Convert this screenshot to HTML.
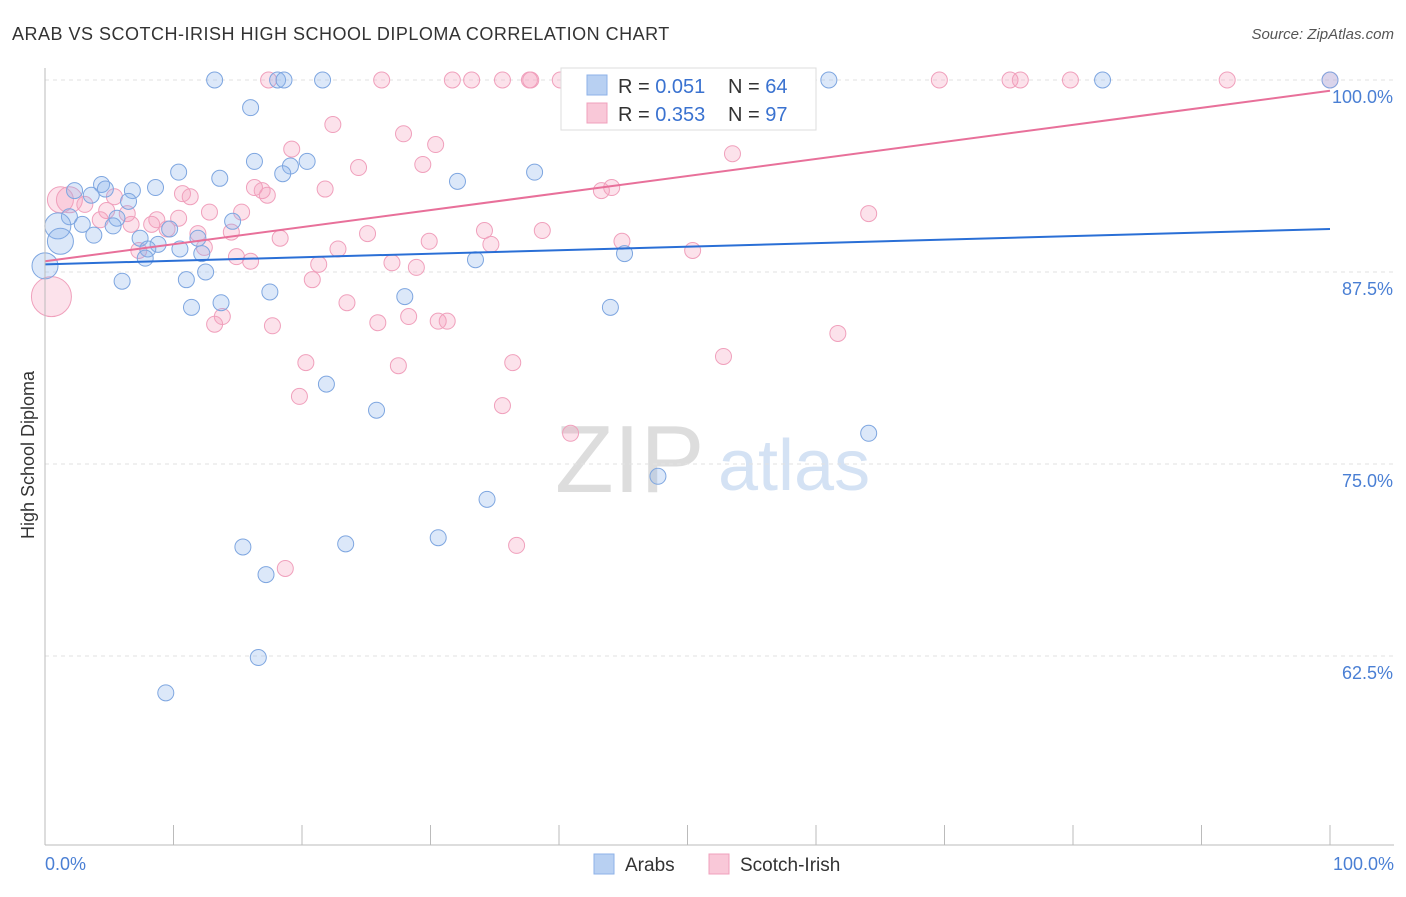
<!DOCTYPE html>
<html><head><meta charset="utf-8"><style>
body{margin:0;background:#fff;font-family:"Liberation Sans",sans-serif;}
svg text{font-family:"Liberation Sans",sans-serif;}
</style></head><body>
<svg id="c" width="1406" height="892">
<text x="12" y="40" font-size="18" letter-spacing="0.5" fill="#333">ARAB VS SCOTCH-IRISH HIGH SCHOOL DIPLOMA CORRELATION CHART</text>
<text x="1394" y="39" font-size="15" fill="#555" text-anchor="end" font-style="italic">Source: ZipAtlas.com</text>
<text x="555" y="492" font-size="96" fill="#ddd" font-family="Liberation Serif">ZIP</text>
<text x="718" y="490" font-size="72" fill="#d4e2f4">atlas</text>
<g id="grid"></g><g id="pts"></g><g id="lines"></g>
<line x1="45" y1="68" x2="45" y2="845" stroke="#bbb"/>
<line x1="45" y1="845" x2="1394" y2="845" stroke="#bbb"/>
<text x="34" y="455" font-size="18" fill="#333" text-anchor="middle" transform="rotate(-90 34 455)">High School Diploma</text>
<text x="45" y="870" font-size="18" fill="#4a7fd4">0.0%</text>
<text x="1394" y="870" font-size="18" fill="#4a7fd4" text-anchor="end">100.0%</text>
<g>
<rect x="561" y="68" width="255" height="62" fill="#fff" stroke="#ddd"/>
<rect x="587" y="75" width="20" height="20" fill="#b8d0f2" stroke="#8eb2e8"/>
<rect x="587" y="103" width="20" height="20" fill="#f9c8d8" stroke="#f0a0bc"/>
<text x="618" y="93" font-size="20" fill="#333">R = <tspan fill="#3a72d0">0.051</tspan></text>
<text x="728" y="93" font-size="20" fill="#333">N = <tspan fill="#3a72d0">64</tspan></text>
<text x="618" y="121" font-size="20" fill="#333">R = <tspan fill="#3a72d0">0.353</tspan></text>
<text x="728" y="121" font-size="20" fill="#333">N = <tspan fill="#3a72d0">97</tspan></text>
</g>
<g>
<rect x="594" y="854" width="20" height="20" fill="#b8d0f2" stroke="#8eb2e8"/>
<text x="625" y="871" font-size="19" fill="#333">Arabs</text>
<rect x="709" y="854" width="20" height="20" fill="#f9c8d8" stroke="#f0a0bc"/>
<text x="740" y="871" font-size="19" fill="#333">Scotch-Irish</text>
</g>
</svg>
<script>
const yTicks=[100,87.5,75,62.5];
const yTickLabels=["100.0%","87.5%","75.0%","62.5%"];
const xTicks=[0,10,20,30,40,50,60,70,80,90,100];
const arabX=[13.2,18.1,18.6,21.6,61.0,82.3,100,16.0,16.3,20.4,19.1,18.5,10.4,13.6,38.1,32.1,8.6,4.4,2.3,3.6,4.7,6.8,6.5,1.9,2.9,1.0,5.6,5.3,14.6,9.7,3.8,7.4,11.9,1.2,8.8,10.5,8.0,12.2,7.8,45.1,33.5,0,12.5,6.0,11.0,17.5,28.0,13.7,11.4,44.0,21.9,25.8,64.1,47.7,34.4,30.6,23.4,15.4,17.2,16.6,9.4];
const arabY=[100,100,100,100,100,100,100,98.2,94.7,94.7,94.4,93.9,94.0,93.6,94.0,93.4,93.0,93.2,92.8,92.5,92.9,92.8,92.1,91.1,90.6,90.5,91.0,90.5,90.8,90.3,89.9,89.7,89.7,89.5,89.3,89.0,89.0,88.7,88.4,88.7,88.3,87.9,87.5,86.9,87.0,86.2,85.9,85.5,85.2,85.2,80.2,78.5,77.0,74.2,72.7,70.2,69.8,69.6,67.8,62.4,60.1];
const arabBig=[25,33,41];
const scotX=[26.2,31.7,33.2,35.6,37.7,37.8,40.1,42.5,47.0,51.0,56.4,69.6,75.1,75.9,79.8,92.0,100,17.4,22.4,27.9,30.4,19.2,53.5,24.4,29.4,43.3,44.1,16.3,16.9,17.3,21.8,10.7,11.3,1.2,1.9,3.1,5.4,12.8,15.3,64.1,4.8,6.4,4.3,10.4,8.7,8.3,6.7,9.5,14.5,25.1,34.2,38.7,11.9,18.3,29.9,34.7,44.9,22.8,12.4,7.3,50.4,14.9,16.0,21.3,27.0,28.9,20.8,0.5,23.5,13.8,13.2,28.3,25.9,30.6,31.3,17.7,61.7,52.8,20.3,36.4,27.5,19.8,35.6,40.9,36.7,18.7];
const scotY=[100,100,100,100,100,100,100,100,100,100,100,100,100,100,100,100,100,100,97.1,96.5,95.8,95.5,95.2,94.3,94.5,92.8,93.0,93.0,92.8,92.5,92.9,92.6,92.4,92.2,92.2,91.9,92.4,91.4,91.4,91.3,91.5,91.3,90.9,91.0,90.9,90.6,90.6,90.3,90.1,90.0,90.2,90.2,90.0,89.7,89.5,89.3,89.5,89.0,89.1,88.9,88.9,88.5,88.2,88.0,88.1,87.8,87.0,85.9,85.5,84.6,84.1,84.6,84.2,84.3,84.3,84.0,83.5,82.0,81.6,81.6,81.4,79.4,78.8,77.0,69.7,68.2];
const scotBig=[33,34,67];
const arabTrend=[88.0,90.3];
const scotTrend=[88.2,99.3];
const X=v=>45+v*12.85, Y=v=>80+(100-v)*15.36;
const NS="http://www.w3.org/2000/svg";
function mk(tag,attrs,parent){const e=document.createElementNS(NS,tag);for(const k in attrs)e.setAttribute(k,attrs[k]);parent.appendChild(e);return e;}
const grid=document.getElementById('grid'),pts=document.getElementById('pts'),lines=document.getElementById('lines');
yTicks.forEach((t,i)=>{
 const l=mk('line',{x1:45,x2:1394,y1:Y(t),y2:Y(t),stroke:'#e2e2e2','stroke-dasharray':'4,4'},grid);
 
 
 const tx=mk('text',{x:1393,y:Y(t)+23,'font-size':18,fill:'#4a7fd4','text-anchor':'end'},grid);
 tx.textContent=yTickLabels[i];
 
 
});
xTicks.forEach(t=>{
 const l=mk('line',{x1:X(t),x2:X(t),y1:825,y2:845,stroke:'#bbb'},grid);
 
 
});
scotX.forEach((x,i)=>{
 const r=scotBig.includes(i)?(i==67?20:13):8;
 const c=mk('circle',{cx:X(x),cy:Y(scotY[i]),r:r,fill:'rgba(244,160,190,0.3)',stroke:'#f0a0bc','stroke-width':1},pts);
 
 
});
arabX.forEach((x,i)=>{
 const r=arabBig.includes(i)?13:8;
 const c=mk('circle',{cx:X(x),cy:Y(arabY[i]),r:r,fill:'rgba(140,180,236,0.3)',stroke:'#7ea6e0','stroke-width':1},pts);
 
 
});
const l1=mk('line',{x1:X(0),x2:X(100),y1:Y(arabTrend[0]),y2:Y(arabTrend[1]),stroke:'#2a6fd6','stroke-width':2},lines);


const l2=mk('line',{x1:X(0),x2:X(100),y1:Y(scotTrend[0]),y2:Y(scotTrend[1]),stroke:'#e8709a','stroke-width':2},lines);


</script>
</body></html>
